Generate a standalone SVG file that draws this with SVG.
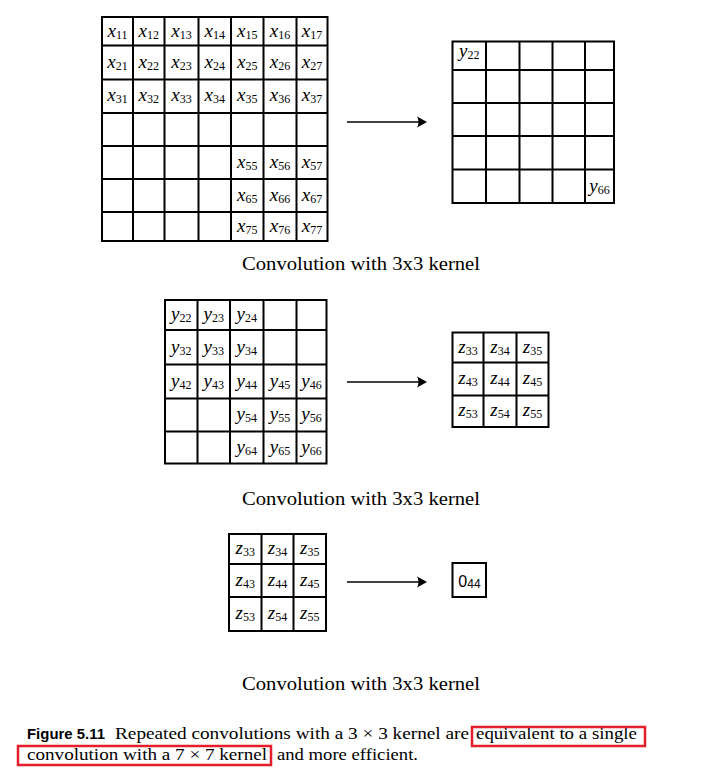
<svg xmlns="http://www.w3.org/2000/svg" width="706" height="771" viewBox="0 0 706 771">
<defs>
<style>
.g{fill:none;stroke:#000;stroke-width:2}
.v{font-family:"Liberation Serif",serif;font-style:italic;font-size:19px;fill:#000;text-anchor:middle}
.s{font-style:normal;font-size:12px}
.o{font-family:"Liberation Sans",sans-serif;font-size:16px;fill:#000;text-anchor:middle}
.os{font-size:12px}
.t{font-family:"Liberation Serif",serif;font-size:19px;fill:#000;text-anchor:middle}
.c{font-family:"Liberation Serif",serif;font-size:16.5px;fill:#000}
.fb{font-family:"Liberation Sans",sans-serif;font-weight:bold;font-size:14.5px;fill:#000}
.r{fill:none;stroke:#e41e2b;stroke-width:2.5}
.a{stroke:#000;stroke-width:1.4;fill:none}
</style>
<marker id="ah" markerUnits="userSpaceOnUse" viewBox="0 0 12 12" markerWidth="12" markerHeight="12" refX="5" refY="6" orient="auto">
<path d="M1,0.5 L11,6 L1,11.5 Q4,6 1,0.5 Z" fill="#000"/>
</marker>
</defs>
<rect width="706" height="771" fill="#fff"/>

<g id="grid-x">
<rect class="g" x="102" y="17" width="225.5" height="224"/>
<path class="g" d="M133,17V241M164.5,17V241M198.5,17V241M231,17V241M263.5,17V241M296.5,17V241M102,45.5H327.5M102,79.5H327.5M102,113H327.5M102,146H327.5M102,179H327.5M102,212H327.5"/>
<text class="v" x="117.5" y="36.5">x<tspan class="s" dy="2">11</tspan></text>
<text class="v" x="148.8" y="36.5">x<tspan class="s" dy="2">12</tspan></text>
<text class="v" x="181.5" y="36.5">x<tspan class="s" dy="2">13</tspan></text>
<text class="v" x="214.8" y="36.5">x<tspan class="s" dy="2">14</tspan></text>
<text class="v" x="247.3" y="36.5">x<tspan class="s" dy="2">15</tspan></text>
<text class="v" x="280" y="36.5">x<tspan class="s" dy="2">16</tspan></text>
<text class="v" x="312" y="36.5">x<tspan class="s" dy="2">17</tspan></text>
<text class="v" x="117.5" y="67.5">x<tspan class="s" dy="2">21</tspan></text>
<text class="v" x="148.8" y="67.5">x<tspan class="s" dy="2">22</tspan></text>
<text class="v" x="181.5" y="67.5">x<tspan class="s" dy="2">23</tspan></text>
<text class="v" x="214.8" y="67.5">x<tspan class="s" dy="2">24</tspan></text>
<text class="v" x="247.3" y="67.5">x<tspan class="s" dy="2">25</tspan></text>
<text class="v" x="280" y="67.5">x<tspan class="s" dy="2">26</tspan></text>
<text class="v" x="312" y="67.5">x<tspan class="s" dy="2">27</tspan></text>
<text class="v" x="117.5" y="101">x<tspan class="s" dy="2">31</tspan></text>
<text class="v" x="148.8" y="101">x<tspan class="s" dy="2">32</tspan></text>
<text class="v" x="181.5" y="101">x<tspan class="s" dy="2">33</tspan></text>
<text class="v" x="214.8" y="101">x<tspan class="s" dy="2">34</tspan></text>
<text class="v" x="247.3" y="101">x<tspan class="s" dy="2">35</tspan></text>
<text class="v" x="280" y="101">x<tspan class="s" dy="2">36</tspan></text>
<text class="v" x="312" y="101">x<tspan class="s" dy="2">37</tspan></text>
<text class="v" x="247.3" y="167.5">x<tspan class="s" dy="2">55</tspan></text>
<text class="v" x="280" y="167.5">x<tspan class="s" dy="2">56</tspan></text>
<text class="v" x="312" y="167.5">x<tspan class="s" dy="2">57</tspan></text>
<text class="v" x="247.3" y="200.5">x<tspan class="s" dy="2">65</tspan></text>
<text class="v" x="280" y="200.5">x<tspan class="s" dy="2">66</tspan></text>
<text class="v" x="312" y="200.5">x<tspan class="s" dy="2">67</tspan></text>
<text class="v" x="247.3" y="232">x<tspan class="s" dy="2">75</tspan></text>
<text class="v" x="280" y="232">x<tspan class="s" dy="2">76</tspan></text>
<text class="v" x="312" y="232">x<tspan class="s" dy="2">77</tspan></text>
</g>

<g id="grid-y-small">
<rect class="g" x="452.5" y="41.5" width="161.5" height="161.5"/>
<path class="g" d="M486,41.5V203M519.5,41.5V203M552.5,41.5V203M585,41.5V203M452.5,70H614M452.5,103H614M452.5,136H614M452.5,169.5H614"/>
<text class="v" x="469.3" y="57">y<tspan class="s" dy="2">22</tspan></text>
<text class="v" x="599.5" y="191.5">y<tspan class="s" dy="2">66</tspan></text>
</g>

<g id="grid-y">
<rect class="g" x="165" y="300" width="161.5" height="163.5"/>
<path class="g" d="M197.5,300V463.5M230,300V463.5M263.5,300V463.5M296.5,300V463.5M165,330H326.5M165,364.5H326.5M165,398.5H326.5M165,431.5H326.5"/>
<text class="v" x="181.3" y="320">y<tspan class="s" dy="2">22</tspan></text>
<text class="v" x="213.8" y="320">y<tspan class="s" dy="2">23</tspan></text>
<text class="v" x="246.8" y="320">y<tspan class="s" dy="2">24</tspan></text>
<text class="v" x="181.3" y="352.5">y<tspan class="s" dy="2">32</tspan></text>
<text class="v" x="213.8" y="352.5">y<tspan class="s" dy="2">33</tspan></text>
<text class="v" x="246.8" y="352.5">y<tspan class="s" dy="2">34</tspan></text>
<text class="v" x="181.3" y="386.5">y<tspan class="s" dy="2">42</tspan></text>
<text class="v" x="213.8" y="386.5">y<tspan class="s" dy="2">43</tspan></text>
<text class="v" x="246.8" y="386.5">y<tspan class="s" dy="2">44</tspan></text>
<text class="v" x="280" y="386.5">y<tspan class="s" dy="2">45</tspan></text>
<text class="v" x="311.5" y="386.5">y<tspan class="s" dy="2">46</tspan></text>
<text class="v" x="246.8" y="420">y<tspan class="s" dy="2">54</tspan></text>
<text class="v" x="280" y="420">y<tspan class="s" dy="2">55</tspan></text>
<text class="v" x="311.5" y="420">y<tspan class="s" dy="2">56</tspan></text>
<text class="v" x="246.8" y="452.5">y<tspan class="s" dy="2">64</tspan></text>
<text class="v" x="280" y="452.5">y<tspan class="s" dy="2">65</tspan></text>
<text class="v" x="311.5" y="452.5">y<tspan class="s" dy="2">66</tspan></text>
</g>

<g id="grid-z-small">
<rect class="g" x="452.5" y="332.5" width="96" height="94.5"/>
<path class="g" d="M483.5,332.5V427M516.5,332.5V427M452.5,362.5H548.5M452.5,395.5H548.5"/>
<text class="v" x="468" y="352.5">z<tspan class="s" dy="2">33</tspan></text>
<text class="v" x="500" y="352.5">z<tspan class="s" dy="2">34</tspan></text>
<text class="v" x="532.5" y="352.5">z<tspan class="s" dy="2">35</tspan></text>
<text class="v" x="468" y="384">z<tspan class="s" dy="2">43</tspan></text>
<text class="v" x="500" y="384">z<tspan class="s" dy="2">44</tspan></text>
<text class="v" x="532.5" y="384">z<tspan class="s" dy="2">45</tspan></text>
<text class="v" x="468" y="416">z<tspan class="s" dy="2">53</tspan></text>
<text class="v" x="500" y="416">z<tspan class="s" dy="2">54</tspan></text>
<text class="v" x="532.5" y="416">z<tspan class="s" dy="2">55</tspan></text>
</g>

<g id="grid-z">
<rect class="g" x="229" y="534" width="97" height="97"/>
<path class="g" d="M261.5,534V631M293.5,534V631M229,564H326M229,597H326"/>
<text class="v" x="245.3" y="554">z<tspan class="s" dy="2">33</tspan></text>
<text class="v" x="277.5" y="554">z<tspan class="s" dy="2">34</tspan></text>
<text class="v" x="309.8" y="554">z<tspan class="s" dy="2">35</tspan></text>
<text class="v" x="245.3" y="585.5">z<tspan class="s" dy="2">43</tspan></text>
<text class="v" x="277.5" y="585.5">z<tspan class="s" dy="2">44</tspan></text>
<text class="v" x="309.8" y="585.5">z<tspan class="s" dy="2">45</tspan></text>
<text class="v" x="245.3" y="619">z<tspan class="s" dy="2">53</tspan></text>
<text class="v" x="277.5" y="619">z<tspan class="s" dy="2">54</tspan></text>
<text class="v" x="309.8" y="619">z<tspan class="s" dy="2">55</tspan></text>
</g>

<g id="out">
<rect class="g" x="452.5" y="563" width="33.5" height="34"/>
<text class="o" x="469.5" y="586.5">0<tspan class="os" dy="1.5">44</tspan></text>
</g>

<g id="connectors">
<line class="a" x1="347" y1="122" x2="421" y2="122" marker-end="url(#ah)"/>
<line class="a" x1="347" y1="382" x2="421" y2="382" marker-end="url(#ah)"/>
<line class="a" x1="347" y1="582" x2="421" y2="582" marker-end="url(#ah)"/>
</g>

<g id="titles">
<text class="t" x="361" y="270" textLength="238" lengthAdjust="spacingAndGlyphs">Convolution with 3x3 kernel</text>
<text class="t" x="361" y="505" textLength="238" lengthAdjust="spacingAndGlyphs">Convolution with 3x3 kernel</text>
<text class="t" x="361" y="690" textLength="238" lengthAdjust="spacingAndGlyphs">Convolution with 3x3 kernel</text>
</g>

<g id="caption">
<text class="fb" x="27" y="739" textLength="78" lengthAdjust="spacingAndGlyphs">Figure 5.11</text>
<text class="c" x="115" y="739" textLength="354" lengthAdjust="spacingAndGlyphs">Repeated convolutions with a 3 × 3 kernel are</text>
<text class="c" x="476" y="739" textLength="161" lengthAdjust="spacingAndGlyphs">equivalent to a single</text>
<text class="c" x="27" y="760" textLength="240" lengthAdjust="spacingAndGlyphs">convolution with a 7 × 7 kernel</text>
<text class="c" x="277" y="760" textLength="141" lengthAdjust="spacingAndGlyphs">and more efficient.</text>
<rect class="r" x="472" y="727" width="173" height="19"/>
<rect class="r" x="18" y="746" width="253" height="19"/>
</g>
</svg>
